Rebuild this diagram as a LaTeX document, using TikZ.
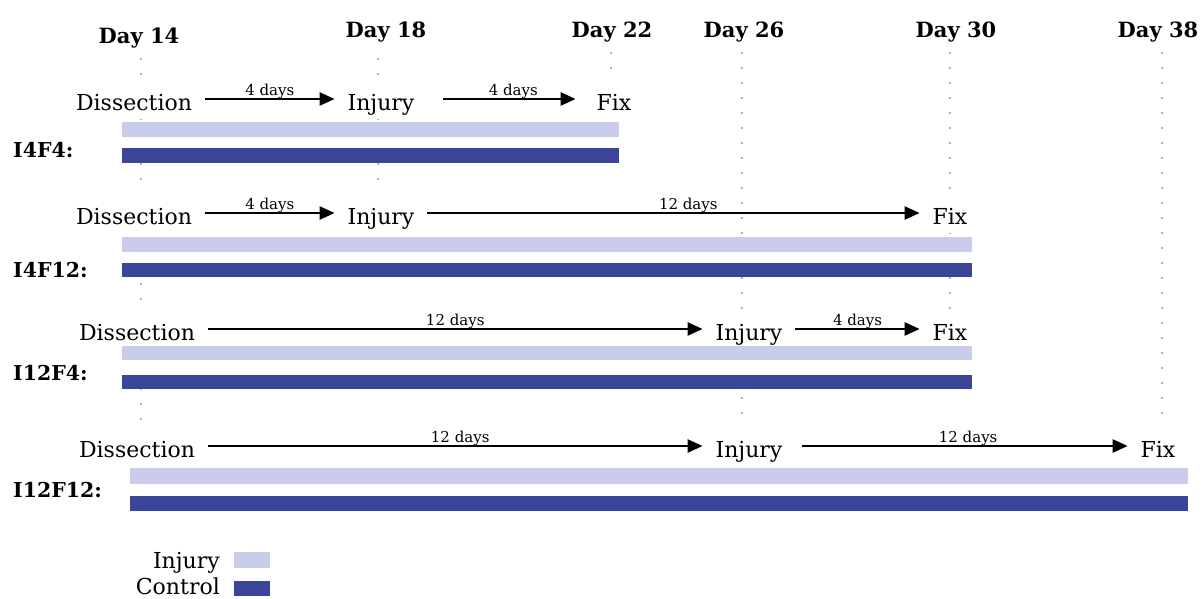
\documentclass[tikz,border=0pt]{standalone}
\usepackage{fontspec}
\setmainfont{DejaVu Serif}
\usetikzlibrary{arrows.meta}
\definecolor{lightbar}{HTML}{C9CCEA}
\definecolor{darkbar}{HTML}{3A4599}
\definecolor{dotc}{HTML}{A9ADDA}
\begin{document}
\begin{tikzpicture}[x=1pt,y=-1pt,
  evt/.style={font=\fontsize{22}{26}\selectfont, fill=white, inner xsep=1pt, inner ysep=1pt,
    text height=30pt, text depth=8pt, anchor=base, outer xsep=12pt},
  dayl/.style={font=\fontsize{21}{25}\selectfont\bfseries, anchor=base, inner sep=0pt},
  grp/.style={font=\fontsize{20.5}{25}\selectfont\bfseries, anchor=base west, inner sep=0pt},
  dl/.style={font=\fontsize{15}{18}\selectfont, anchor=base, yshift=4pt, inner sep=0pt},
  arr/.style={line width=2.4pt, -{Triangle[length=15pt,width=13pt]}},
  guide/.style={dotc, line width=2.4pt, dash pattern=on 2.4pt off 12.6pt},
  lgd/.style={font=\fontsize{22}{26}\selectfont, anchor=base east, inner sep=0pt}
]
\useasboundingbox (0,0) rectangle (1203,598);

% day headers
\node[dayl] (d14) at (139,43) {Day 14};
\node[dayl] (d18) at (386,37) {Day 18};
\node[dayl] (d22) at (612,37) {Day 22};
\node[dayl] (d26) at (744,37) {Day 26};
\node[dayl] (d30) at (956,37) {Day 30};
\node[dayl] (d38) at (1158,37) {Day 38};

% dotted guide lines
\draw[guide] (141,58) -- (141,432);
\draw[guide] (378,58) -- (378,212);
\draw[guide] (611,52) -- (611,90);
\draw[guide] (742,52) -- (742,432);
\draw[guide] (950,52) -- (950,322);
\draw[guide] (1162,52) -- (1162,428);

% row 1
\node[evt] (dis1) at (134,110) {Dissection};
\node[evt] (inj1) at (381,110) {Injury};
\node[evt] (fix1) at (614,110) {Fix};
\draw[arr] (dis1.east) -- node[dl] {4 days} (inj1.west);
\draw[arr, shorten <=16pt, shorten >=8pt] (inj1.east) -- node[dl, pos=0.55] {4 days} (fix1.west);
\node[grp] (g1) at (13,157) {I4F4:};

% row 2
\node[evt] (dis2) at (134,224) {Dissection};
\node[evt] (inj2) at (381,224) {Injury};
\node[evt] (fix2) at (950,224) {Fix};
\draw[arr] (dis2.east) -- node[dl] {4 days} (inj2.west);
\draw[arr] (inj2.east) -- node[dl, pos=0.53] {12 days} (fix2.west);
\node[grp] (g2) at (13,277) {I4F12:};

% row 3
\node[evt] (dis3) at (137,340) {Dissection};
\node[evt] (inj3) at (749,340) {Injury};
\node[evt] (fix3) at (950,340) {Fix};
\draw[arr] (dis3.east) -- node[dl] {12 days} (inj3.west);
\draw[arr] (inj3.east) -- node[dl] {4 days} (fix3.west);
\node[grp] (g3) at (13,380) {I12F4:};

% row 4
\node[evt] (dis4) at (137,457) {Dissection};
\node[evt] (inj4) at (749,457) {Injury};
\node[evt] (fix4) at (1158,457) {Fix};
\draw[arr] (dis4.east) -- node[dl, pos=0.51] {12 days} (inj4.west);
\draw[arr, shorten <=7pt] (inj4.east) -- node[dl, pos=0.52] {12 days} (fix4.west);
\node[grp] (g4) at (13,497) {I12F12:};

% bars
\fill[white] (122,122) rectangle (619,163);
\fill[lightbar] (122,122) rectangle (619,137);
\fill[darkbar] (122,148) rectangle (619,163);

\fill[white] (122,237) rectangle (972,277);
\fill[lightbar] (122,237) rectangle (972,252);
\fill[darkbar] (122,263) rectangle (972,277);

\fill[white] (122,346) rectangle (972,389);
\fill[lightbar] (122,346) rectangle (972,360);
\fill[darkbar] (122,375) rectangle (972,389);

\fill[white] (130,468) rectangle (1188,511);
\fill[lightbar] (130,468) rectangle (1188,484);
\fill[darkbar] (130,496) rectangle (1188,511);

% legend
\node[lgd] (li) at (220,568) {Injury};
\node[lgd] (lc) at (220,594) {Control};
\fill[lightbar] (234,552) rectangle (270,568);
\fill[darkbar] (234,581) rectangle (270,596);
\end{tikzpicture}
\end{document}
